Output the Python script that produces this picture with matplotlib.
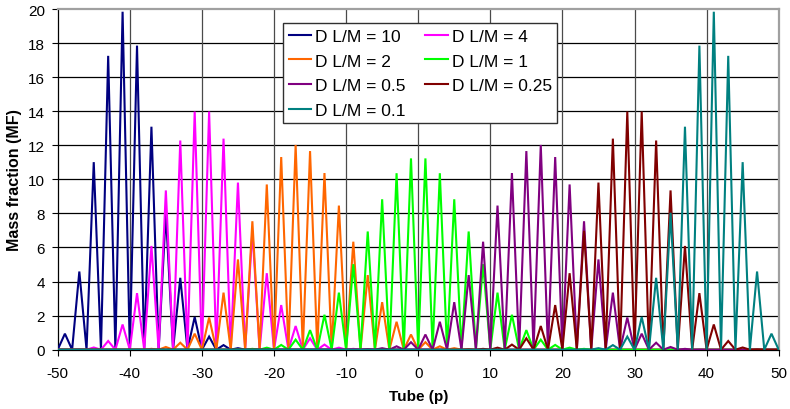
import matplotlib
matplotlib.use("Agg")
import matplotlib.pyplot as plt
import numpy as np

plt.rcParams['font.family'] = ['Liberation Sans', 'DejaVu Sans']
plt.rcParams['axes.unicode_minus'] = False

# Tube positions: solute sits in odd-numbered tubes, even-numbered tubes are empty.
tubes_all = list(range(-50, 51))
tubes_odd = list(range(-49, 50, 2))

x_ticks = [-50, -40, -30, -20, -10, 0, 10, 20, 30, 40, 50]
y_ticks = [0, 2, 4, 6, 8, 10, 12, 14, 16, 18, 20]

# Mass fraction (%) in each odd tube, from tube -49 to tube 49.
mf_d10 = [
    0.94, 4.59, 11.01, 17.25, 19.84, 17.85, 13.09, 8.04, 4.22, 1.92,
    0.77, 0.27, 0.09, 0.02, 0, 0, 0, 0, 0, 0,
    0, 0, 0, 0, 0, 0, 0, 0, 0, 0,
    0, 0, 0, 0, 0, 0, 0, 0, 0, 0,
    0, 0, 0, 0, 0, 0, 0, 0, 0, 0,
]
mf_d4 = [
    0.00, 0.02, 0.13, 0.51, 1.48, 3.32, 6.09, 9.35, 12.28, 13.98,
    13.98, 12.39, 9.81, 6.98, 4.49, 2.62, 1.39, 0.67, 0.30, 0.12,
    0.05, 0.02, 0, 0, 0, 0, 0, 0, 0, 0,
    0, 0, 0, 0, 0, 0, 0, 0, 0, 0,
    0, 0, 0, 0, 0, 0, 0, 0, 0, 0,
]
mf_d2 = [
    0, 0, 0, 0, 0, 0.01, 0.05, 0.16, 0.41, 0.94,
    1.89, 3.35, 5.30, 7.54, 9.70, 11.31, 12.02, 11.66, 10.37, 8.46,
    6.34, 4.38, 2.79, 1.64, 0.89, 0.44, 0.20, 0.09, 0.03, 0.01,
    0, 0, 0, 0, 0, 0, 0, 0, 0, 0,
    0, 0, 0, 0, 0, 0, 0, 0, 0, 0,
]
mf_d1 = [
    0, 0, 0, 0, 0, 0, 0, 0, 0, 0,
    0, 0, 0.02, 0.05, 0.12, 0.28, 0.59, 1.15, 2.05, 3.35,
    5.02, 6.94, 8.83, 10.36, 11.23, 11.23, 10.36, 8.83, 6.94, 5.02,
    3.35, 2.05, 1.15, 0.59, 0.28, 0.12, 0.05, 0.02, 0, 0,
    0, 0, 0, 0, 0, 0, 0, 0, 0, 0,
]
mf_d05 = [
    0, 0, 0, 0, 0, 0, 0, 0, 0, 0,
    0, 0, 0, 0, 0, 0, 0, 0, 0, 0,
    0.01, 0.03, 0.09, 0.20, 0.44, 0.89, 1.64, 2.79, 4.38, 6.34,
    8.46, 10.37, 11.66, 12.02, 11.31, 9.70, 7.54, 5.30, 3.35, 1.89,
    0.94, 0.41, 0.16, 0.05, 0.01, 0, 0, 0, 0, 0,
]
mf_d025 = [
    0, 0, 0, 0, 0, 0, 0, 0, 0, 0,
    0, 0, 0, 0, 0, 0, 0, 0, 0, 0,
    0, 0, 0, 0, 0, 0, 0, 0, 0.02, 0.05,
    0.12, 0.30, 0.67, 1.39, 2.62, 4.49, 6.98, 9.81, 12.39, 13.98,
    13.98, 12.28, 9.35, 6.09, 3.32, 1.48, 0.51, 0.13, 0.02, 0.00,
]
mf_d01 = [
    0, 0, 0, 0, 0, 0, 0, 0, 0, 0,
    0, 0, 0, 0, 0, 0, 0, 0, 0, 0,
    0, 0, 0, 0, 0, 0, 0, 0, 0, 0,
    0, 0, 0, 0, 0, 0, 0.02, 0.09, 0.27, 0.77,
    1.92, 4.22, 8.04, 13.09, 17.85, 19.84, 17.25, 11.01, 4.59, 0.94,
]

series_labels = ["D L/M = 10", "D L/M = 4", "D L/M = 2", "D L/M = 1",
                 "D L/M = 0.5", "D L/M = 0.25", "D L/M = 0.1"]
series_values = [mf_d10, mf_d4, mf_d2, mf_d1, mf_d05, mf_d025, mf_d01]
series_colors = ["#000080", "#FF00FF", "#FF6600", "#00FF00",
                 "#800080", "#800000", "#008080"]

W, H = 790, 410
fig = plt.figure(figsize=(W / 100, H / 100), dpi=100)
fig.patch.set_facecolor("white")

# plot area in pixels
left_px, right_px, top_px, bottom_px = 57.7, 778.7, 10.0, 350.7
ax = fig.add_axes([left_px / W, 1 - bottom_px / H,
                   (right_px - left_px) / W, (bottom_px - top_px) / H])

odd_index = {t: i for i, t in enumerate(tubes_all)}
handles = []
for label, vals, color in zip(series_labels, series_values, series_colors):
    full = np.zeros(len(tubes_all))
    for t, v in zip(tubes_odd, vals):
        full[odd_index[t]] = v
    (ln,) = ax.plot(tubes_all, full, color=color, lw=1.5, label=label,
                    solid_joinstyle="miter", zorder=3)
    handles.append(ln)

ax.set_xlim(-50, 50)
ax.set_ylim(0, 20)
ax.set_xticks(x_ticks)
ax.set_yticks(y_ticks)
ax.tick_params(axis="both", direction="out", length=4.5, width=0.8,
               labelsize=11, color="black")
ax.tick_params(axis="x", pad=7)
ax.tick_params(axis="y", pad=4.5)

# gridlines
for y in y_ticks[1:-1]:
    ax.axhline(y, color="black", lw=0.9, zorder=1)
for x in x_ticks[1:-1]:
    ax.axvline(x, color="#4a4a4a", lw=0.9, zorder=1)

for side in ("top", "right"):
    ax.spines[side].set_color("#a0a0a0")
    ax.spines[side].set_linewidth(1.6)
for side in ("left", "bottom"):
    ax.spines[side].set_color("black")
    ax.spines[side].set_linewidth(0.9)

ax.set_xlabel("Tube (p)", fontsize=11, fontweight="bold")
ax.xaxis.set_label_coords(0.5, -0.115)
ax.set_ylabel("Mass fraction (MF)", fontsize=11.5, fontweight="bold")
ax.yaxis.set_label_coords(-0.050, 0.5)

order = [0, 2, 4, 6, 1, 3, 5]
leg = ax.legend([handles[i] for i in order], [series_labels[i] for i in order],
                ncol=2, loc="upper left",
                bbox_to_anchor=((283.3 - left_px) / (right_px - left_px),
                                (bottom_px - 24.3) / (bottom_px - top_px)),
                borderaxespad=0, fontsize=12.5, handlelength=1.3,
                handletextpad=0.25, columnspacing=1.1, labelspacing=0.56,
                borderpad=0.3, fancybox=False, framealpha=1,
                edgecolor="#303030")
leg.get_frame().set_linewidth(1.0)
for h in leg.get_lines():
    h.set_linewidth(1.5)
leg.set_zorder(5)

fig.savefig("out.png", dpi=100, facecolor="white")
